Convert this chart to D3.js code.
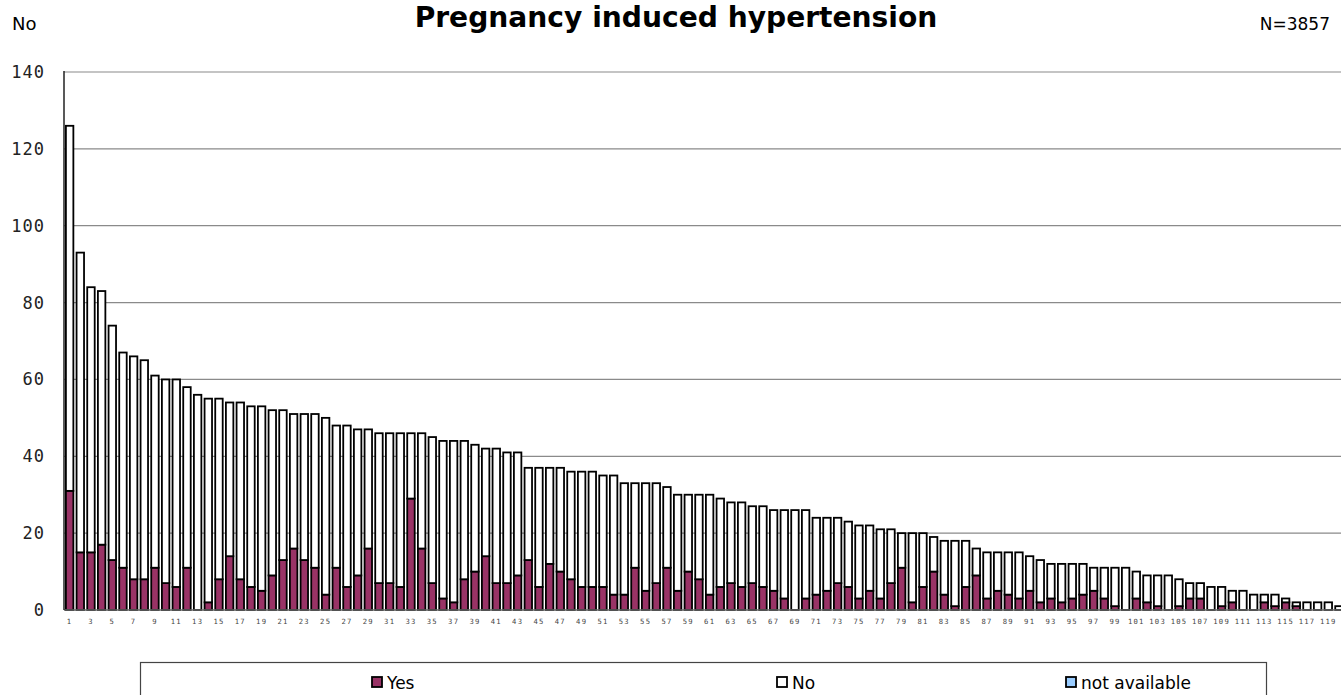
<!DOCTYPE html>
<html><head><meta charset="utf-8">
<script src="https://cdn.jsdelivr.net/npm/d3@7"></script>
<style>body{margin:0;background:#fff;} svg{display:block;}</style>
</head><body><svg id="c" width="1341" height="695"></svg>
<script>
const categories = [1,2,3,4,5,6,7,8,9,10,11,12,13,14,15,16,17,18,19,20,
21,22,23,24,25,26,27,28,29,30,31,32,33,34,35,36,37,38,39,40,
41,42,43,44,45,46,47,48,49,50,51,52,53,54,55,56,57,58,59,60,
61,62,63,64,65,66,67,68,69,70,71,72,73,74,75,76,77,78,79,80,
81,82,83,84,85,86,87,88,89,90,91,92,93,94,95,96,97,98,99,100,
101,102,103,104,105,106,107,108,109,110,111,112,113,114,115,116,117,118,119,120];

const yesValues = [31,15,15,17,13,11,8,8,11,7,6,11,0,2,8,14,8,6,5,9,
13,16,13,11,4,11,6,9,16,7,7,6,29,16,7,3,2,8,10,14,
7,7,9,13,6,12,10,8,6,6,6,4,4,11,5,7,11,5,10,8,
4,6,7,6,7,6,5,3,0,3,4,5,7,6,3,5,3,7,11,2,
6,10,4,1,6,9,3,5,4,3,5,2,3,2,3,4,5,3,1,0,
3,2,1,0,1,3,3,0,1,2,0,0,2,1,2,1,0,0,0,0];

const noValues = [95,78,69,66,61,56,58,57,50,53,54,47,56,53,47,40,46,47,48,43,
39,35,38,40,46,37,42,38,31,39,39,40,17,30,38,41,42,36,33,28,
35,34,32,24,31,25,27,28,30,30,29,31,29,22,28,26,21,25,20,22,
26,23,21,22,20,21,21,23,26,23,20,19,17,17,19,17,18,14,9,18,
14,9,14,17,12,7,12,10,11,12,9,11,9,10,9,8,6,8,10,11,
7,7,8,9,7,4,4,6,5,3,5,4,2,3,1,1,2,2,2,1];

const notAvailableValues = [0,0,0,0,0,0,0,0,0,0,0,0,0,0,0,0,0,0,0,0,
0,0,0,0,0,0,0,0,0,0,0,0,0,0,0,0,0,0,0,0,
0,0,0,0,0,0,0,0,0,0,0,0,0,0,0,0,0,0,0,0,
0,0,0,0,0,0,0,0,0,0,0,0,0,0,0,0,0,0,0,0,
0,0,0,0,0,0,0,0,0,0,0,0,0,0,0,0,0,0,0,0,
0,0,0,0,0,0,0,0,0,0,0,0,0,0,0,0,0,0,0,0];

const seriesNames = ["Yes","No","not available"];
const seriesColors = ["#993366","#ffffff","#99ccff"];
const yTickValues = [0,20,40,60,80,100,120,140];
const xTickLabels = [1,3,5,7,9,11,13,15,17,19,21,23,25,27,29,31,33,35,37,39,41,43,45,47,49,51,53,55,57,59,
61,63,65,67,69,71,73,75,77,79,81,83,85,87,89,91,93,95,97,99,101,103,105,107,109,111,113,115,117,119];
const titleText = "Pregnancy induced hypertension";
const yAxisLabel = "No";
const nLabel = "N=3857";

const table = categories.map((c,i)=>({cat:c, "Yes":yesValues[i], "No":noValues[i], "not available":notAvailableValues[i]}));

const svg = d3.select("#c");
const plotLeft = 64.3, plotRight = 1344.3, plotTop = 72, plotBottom = 610;

const x = d3.scaleBand().domain(categories).range([plotLeft, plotRight]).paddingInner(0.3).paddingOuter(0.15);
const y = d3.scaleLinear().domain([0,140]).range([plotBottom, plotTop]);

// gridlines
svg.append("g").selectAll("line").data(yTickValues.filter(v=>v>0)).join("line")
  .attr("x1", 64).attr("x2", 1341)
  .attr("y1", d=>y(d)).attr("y2", d=>y(d))
  .attr("stroke", "#8a8a8a").attr("stroke-width", 1.2);

// stacked bars
const stack = d3.stack().keys(seriesNames);
const layers = stack(table);
const color = d3.scaleOrdinal().domain(seriesNames).range(seriesColors);

svg.append("g").selectAll("g").data(layers).join("g")
  .attr("fill", d=>color(d.key))
  .selectAll("rect").data(d=>d.filter(p=>p[1]-p[0]>0)).join("rect")
  .attr("x", d=>x(d.data.cat))
  .attr("width", x.bandwidth())
  .attr("y", d=>y(d[1]))
  .attr("height", d=>y(d[0])-y(d[1]))
  .attr("stroke", "#000").attr("stroke-width", 1.8);

// axes
const yAxis = d3.axisLeft(y).tickValues(yTickValues).tickSize(0).tickPadding(19);
const gy = svg.append("g").attr("transform", `translate(64,0)`).call(yAxis);
gy.select(".domain").remove();
gy.selectAll("text").attr("font-family", "'DejaVu Sans Mono', monospace").attr("font-size", 17)
  .attr("fill", "#222").attr("letter-spacing", 1);

const xAxis = d3.axisBottom(x).tickValues(xTickLabels).tickSize(0).tickPadding(9);
const gx = svg.append("g").attr("transform", `translate(0,${plotBottom})`).call(xAxis);
gx.select(".domain").remove();
gx.selectAll("text").attr("font-family", "'DejaVu Sans Mono', monospace").attr("font-size", 7.2)
  .attr("fill", "#444").attr("letter-spacing", 1.2);

// axis lines
svg.append("line").attr("x1", 64).attr("x2", 1341).attr("y1", plotBottom).attr("y2", plotBottom)
  .attr("stroke", "#666").attr("stroke-width", 1.5);
svg.append("line").attr("x1", 64).attr("x2", 64).attr("y1", plotTop-1).attr("y2", plotBottom)
  .attr("stroke", "#222").attr("stroke-width", 1.5);

// title
const t = svg.append("text").attr("x", 676).attr("y", 19).attr("text-anchor", "middle")
  .attr("font-family", "'DejaVu Sans', Verdana, sans-serif").attr("font-weight", "bold")
  .attr("font-size", 22).attr("fill", "#000").text(titleText);
const tw = t.node().getComputedTextLength();
t.attr("font-size", 22 * 523 / tw);
const tb = t.node().getBBox();
if (tb.y < 1) t.attr("y", 19 + (1 - tb.y));

svg.append("text").attr("x", 12).attr("y", 30).attr("font-family", "'DejaVu Sans', sans-serif")
  .attr("font-size", 18).attr("fill", "#000").text(yAxisLabel);
svg.append("text").attr("x", 1330).attr("y", 30).attr("text-anchor", "end").attr("font-family", "'DejaVu Sans', sans-serif")
  .attr("font-size", 17).attr("fill", "#000").text(nLabel);

// legend
svg.append("rect").attr("x", 140.5).attr("y", 662.5).attr("width", 1126).attr("height", 45)
  .attr("fill", "#fff").attr("stroke", "#444").attr("stroke-width", 1.2);
const legendX = [372, 777, 1066];
const lg = svg.append("g").selectAll("g").data(seriesNames).join("g")
  .attr("transform", (d,i)=>`translate(${legendX[i]},677)`);
lg.append("rect").attr("width", 10).attr("height", 10).attr("fill", d=>color(d))
  .attr("stroke", "#000").attr("stroke-width", 1.8);
lg.append("text").attr("x", 15).attr("y", 12).attr("font-family", "'DejaVu Sans', sans-serif")
  .attr("font-size", 17).attr("fill", "#000").text(d=>d);
</script>
</body></html>
